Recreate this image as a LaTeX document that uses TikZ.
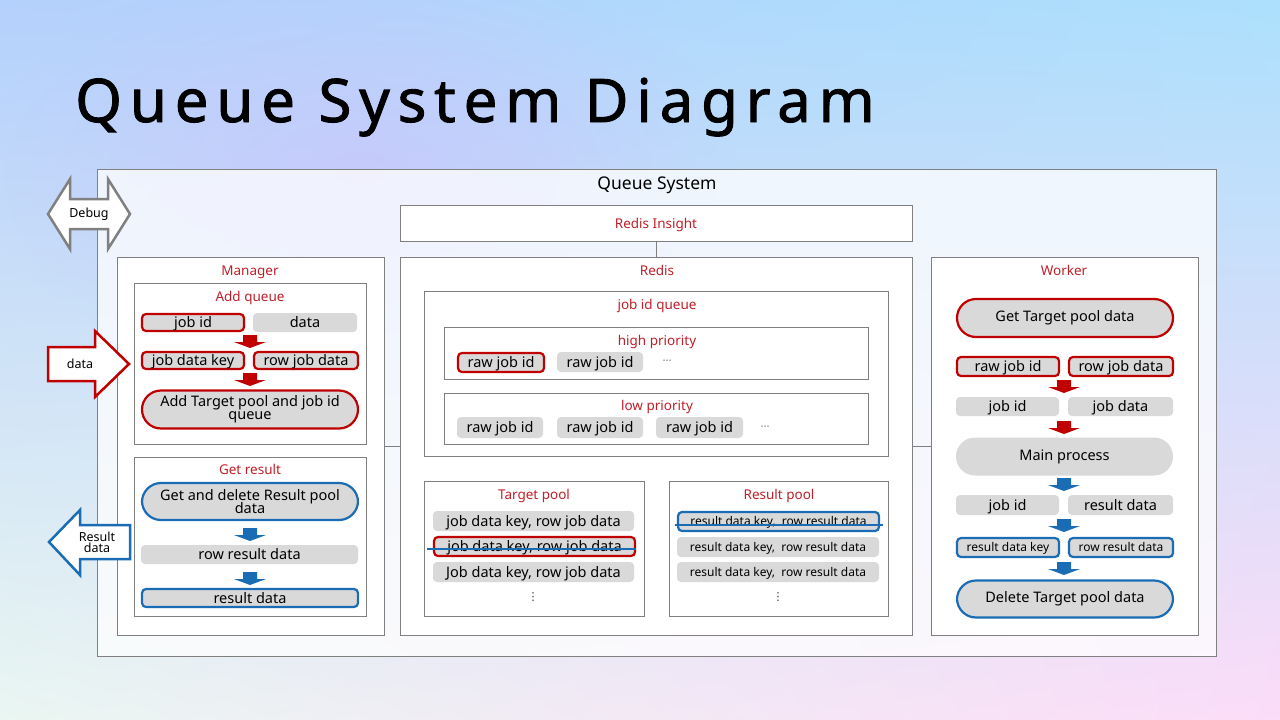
\documentclass[tikz,border=0pt]{standalone}
\usepackage{fontspec}
\setmainfont{Noto Sans}
\newfontfamily\titlefont[LetterSpace=13, FakeBold=1.5]{Noto Sans}
\newfontfamily\dotfont{DejaVu Sans}
\usetikzlibrary{shadings, fadings}
\tikzfading[name=glow, inner color=transparent!0, outer color=transparent!100]

\definecolor{mred}{HTML}{C00000}
\definecolor{headred}{HTML}{C0202A}
\definecolor{mblue}{HTML}{1A6CB5}
\definecolor{itemgray}{HTML}{D9D9D9}
\definecolor{framegray}{HTML}{808080}
\definecolor{bgtl}{HTML}{B4D0FC}
\definecolor{bgtr}{HTML}{ACE0FC}
\definecolor{bgbl}{HTML}{EAF6F2}
\definecolor{bgbr}{HTML}{FCDCF8}
\definecolor{lavender}{HTML}{C8C4FC}

\begin{document}
\begin{tikzpicture}[x=1pt, y=-1pt,
    wh/.style 2 args={minimum width=#1pt, minimum height=#2pt},
    frame/.style={draw=framegray, fill=white, fill opacity=0.75, inner sep=0pt, line width=0.8pt},
    panel/.style={draw=framegray, fill=white, inner sep=0pt, line width=0.8pt},
    conn/.style={draw=framegray, line width=0.8pt},
    head/.style={text=headred, font=\fontsize{13.5}{15}\selectfont, text height=13pt, text depth=3pt},
    tile/.style={fill=itemgray, rounded corners=4pt, inner sep=0pt, font=\fontsize{14.5}{16}\selectfont},
    item/.style={tile, text height=13pt, text depth=3pt},
    redbox/.style={item, draw=mred, line width=2.2pt},
    bluebox/.style={item, draw=mblue, line width=2.2pt},
    pill/.style={tile, rounded corners=19pt, align=center},
    small/.style={font=\fontsize{12}{14}\selectfont, text height=11pt, text depth=2.5pt},
    dots/.style={font=\dotfont\fontsize{9}{10}\selectfont, text=black!80},
    strike/.style={mblue, line width=2.5pt},
    bigarrow/.style={draw=#1, fill=white, line width=2.5pt, line join=miter},
    pics/flow/.style={code={\fill[#1] (-7,0) -- (7,0) -- (7,7) -- (16,7) -- (0,13) -- (-16,7) -- (-7,7) -- cycle;}}
]

% --- Fondo ---
\useasboundingbox (0,0) rectangle (1280,720);
\shade[upper left=bgtl, upper right=bgtr, lower left=bgbl, lower right=bgbr] (0,0) rectangle (1280,720);
\begin{scope}
  \clip (0,0) rectangle (1280,720);
  \fill[lavender, opacity=0.7, path fading=glow] (360,170) ellipse (380 and 210);
\end{scope}

% --- Titulo ---
\node[anchor=base west, inner sep=0pt, font=\titlefont\fontsize{60}{70}\selectfont] (title) at (75,122) {Queue System Diagram};

% --- Queue System ---
\node[frame, wh={1119}{487}] (qs) at (656.5,412.5) {};
\node[font=\fontsize{17.5}{20}\selectfont, text height=15pt, text depth=4pt] (qsT) at (657,184) {Queue System};

\node[panel, head, wh={512}{36}] (insight) at (656,223) {Redis Insight};

% --- Manager ---
\node[panel, wh={267}{378}] (manager) at (250.5,446) {};
\node[head] (managerT) at (250,270) {Manager};

\node[panel, wh={232}{161}] (addq) at (250,363.5) {};
\node[head] (addqT) at (250,296) {Add queue};
\node[redbox, wh={102}{17}] (jid) at (193,322.5) {job id};
\node[item, wh={104}{19}] (dat) at (305,322.5) {data};
\pic at (250,335) {flow=mred};
\node[redbox, wh={102}{17}] (jdk) at (193,360.5) {job data key};
\node[redbox, wh={104}{17}] (rjd) at (306,360.5) {row job data};
\pic at (250,373) {flow=mred};
\node[pill, draw=mred, line width=2.2pt, wh={216}{38}] (addtp) at (250,409.5) {Add Target pool and job id\\[-3pt]queue};

\node[panel, wh={232}{159}] (getr) at (250,536.5) {};
\node[head] (getrT) at (250,469) {Get result};
\node[pill, draw=mblue, line width=2.2pt, wh={216}{37}] (gdr) at (250,501.5) {Get and delete Result pool\\[-3pt]data};
\pic at (250,528) {flow=mblue};
\node[item, wh={217}{19}] (rrd) at (249.5,554.5) {row result data};
\pic at (250,572) {flow=mblue};
\node[bluebox, wh={216}{18}] (res) at (250,598) {result data};

% --- Redis ---
\node[panel, wh={512}{378}] (redis) at (656,446) {};
\node[head] (redisT) at (657,270) {Redis};

\node[panel, wh={464}{165}] (jq) at (656,373.5) {};
\node[head] (jqT) at (657,304) {job id queue};

\node[panel, wh={424}{52}] (hp) at (656,353) {};
\node[head] (hpT) at (657,340) {high priority};
\node[redbox, wh={86}{19}] (h1) at (501,362.5) {raw job id};
\node[item, wh={86}{20}] (h2) at (600,362) {raw job id};
\node[dots] (hdots) at (667,362) {⋯};

\node[panel, wh={424}{51}] (lp) at (656,418.5) {};
\node[head] (lpT) at (657,405) {low priority};
\node[item, wh={86}{21}] (l1) at (500,427.5) {raw job id};
\node[item, wh={86}{21}] (l2) at (600,427.5) {raw job id};
\node[item, wh={87}{21}] (l3) at (699.5,427.5) {raw job id};
\node[dots] (ldots) at (765,428) {⋯};

\node[panel, wh={220}{135}] (tp) at (534,548.5) {};
\node[head] (tpT) at (534,494) {Target pool};
\node[item, wh={201}{20}] (t1) at (533.5,521) {job data key, row job data};
\node[redbox, wh={201}{19}] (t2) at (534.5,546.5) {job data key, row job data};
\node[item, wh={201}{20}] (t3) at (533.5,572) {Job data key, row job data};
\node[dots, font=\dotfont\fontsize{11}{12}\selectfont] (tdots) at (533,597) {⋮};
\draw[strike] ([xshift=-6pt, yshift=-2.5pt]t2.west) -- ([yshift=-2.5pt]t2.east);

\node[panel, wh={219}{135}] (rp) at (778.5,548.5) {};
\node[head] (rpT) at (779,494) {Result pool};
\node[bluebox, small, wh={201}{19}] (r1) at (778.5,521.5) {result data key,~ row result data};
\node[item, small, wh={202}{20}] (r2) at (778,547) {result data key,~ row result data};
\node[item, small, wh={202}{20}] (r3) at (778,572) {result data key,~ row result data};
\node[dots, font=\dotfont\fontsize{11}{12}\selectfont] (rdots) at (778,597) {⋮};
\draw[strike] ([xshift=-2pt, yshift=-3.5pt]r1.west) -- ([xshift=3pt, yshift=-3.5pt]r1.east);

% --- Worker ---
\node[panel, wh={267}{378}] (worker) at (1064.5,446) {};
\node[head] (workerT) at (1064,270) {Worker};
\node[pill, draw=mred, line width=2.2pt, wh={216}{38}] (w1) at (1065,318) {Get Target pool data};
\node[redbox, wh={102}{19}] (w2) at (1008,366.5) {raw job id};
\node[redbox, wh={104}{19}] (w3) at (1121,366.5) {row job data};
\pic at (1064,380) {flow=mred};
\node[item, wh={103}{19}] (w4) at (1007.5,406.5) {job id};
\node[item, wh={105}{19}] (w5) at (1120.5,406.5) {job data};
\pic at (1064,421) {flow=mred};
\node[pill, wh={217}{38}] (w6) at (1064.5,456.5) {Main process};
\pic at (1064,478) {flow=mblue};
\node[item, wh={103}{20}] (w7) at (1007.5,505) {job id};
\node[item, wh={105}{20}] (w8) at (1120.5,505) {result data};
\pic at (1064,519) {flow=mblue};
\node[bluebox, small, wh={102}{19}] (w9) at (1008,547.5) {result data key};
\node[bluebox, small, wh={104}{19}] (w10) at (1121,547.5) {row result data};
\pic at (1064,562) {flow=mblue};
\node[pill, draw=mblue, line width=2.2pt, wh={216}{37}] (w11) at (1065,599) {Delete Target pool data};

% --- Conexiones ---
\draw[conn] (insight.south) -- (redis.north);
\draw[conn] (manager.east) -- (redis.west);
\draw[conn] (redis.east) -- (worker.west);

% --- Flechas externas ---
\draw[bigarrow=framegray] (48,214) -- (70,179) -- (70,199) -- (108,199) -- (108,179) -- (130,214) -- (108,249) -- (108,229) -- (70,229) -- (70,249) -- cycle;
\node[font=\fontsize{12.5}{14}\selectfont] (debug) at (89,214) {Debug};

\draw[bigarrow=mred] (48,347) -- (95,347) -- (95,331) -- (129,364) -- (95,397) -- (95,381) -- (48,381) -- cycle;
\node[font=\fontsize{12.5}{14}\selectfont] (dataIn) at (80,364) {data};

\draw[bigarrow=mblue] (49,542) -- (80,510) -- (80,525) -- (130,525) -- (130,559) -- (80,559) -- (80,575) -- cycle;
\node[font=\fontsize{12.5}{14}\selectfont, align=center] (resOut) at (97,542) {Result\\[-3pt]data};

\end{tikzpicture}
\end{document}
